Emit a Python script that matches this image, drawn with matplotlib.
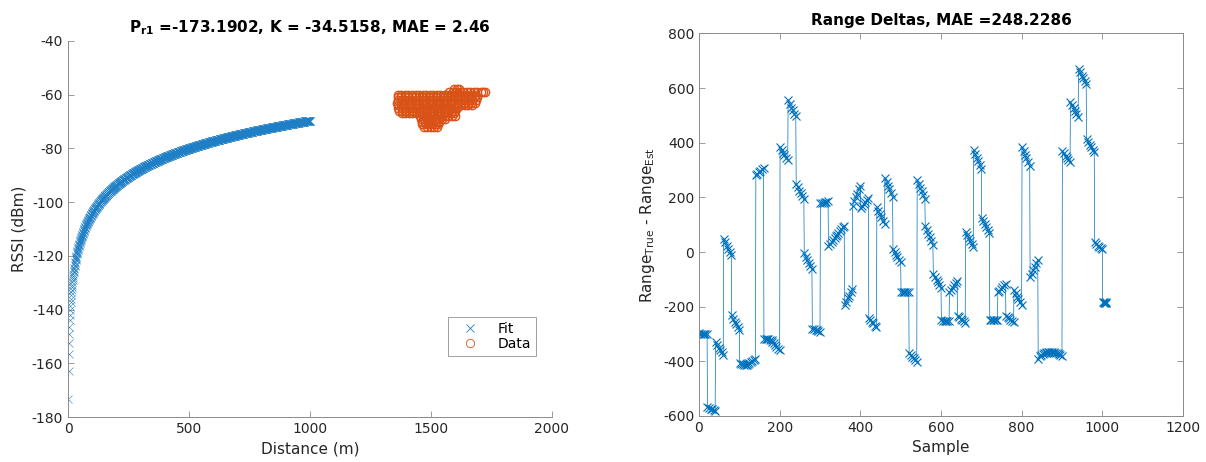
import numpy as np
import matplotlib.pyplot as plt

plt.rcParams['axes.unicode_minus'] = False

# path loss fit parameters
P_r1 = -173.1902
K = -34.5158
fit_dist = np.arange(1, 1001)

# measured points: RSSI level (dBm) and the distances (m) logged at it
rssi_levels = [-58, -59, -60, -61, -62, -63, -64, -65, -66, -67, -68, -69, -70, -71, -72]
dist_rows = [
    [1597, 1606, 1614],
    [1576, 1590, 1604, 1619, 1633, 1648, 1662, 1677, 1691, 1705, 1716, 1724],
    [1363, 1377, 1392, 1406, 1421, 1436, 1450, 1465, 1479, 1494, 1508, 1523, 1538,
     1552, 1567, 1581, 1596, 1611, 1625, 1640, 1654, 1669, 1683],
    [1362, 1376, 1391, 1405, 1420, 1434, 1449, 1463, 1478, 1492, 1507, 1522, 1536,
     1551, 1565, 1580, 1594, 1609, 1623, 1638, 1652, 1667, 1681, 1689],
    [1364, 1379, 1393, 1408, 1422, 1437, 1451, 1466, 1481, 1495, 1510, 1524, 1539,
     1553, 1568, 1582, 1597, 1612, 1626, 1641, 1655, 1670, 1686],
    [1361, 1375, 1390, 1404, 1419, 1434, 1448, 1463, 1477, 1492, 1506, 1521, 1535,
     1550, 1564, 1579, 1594, 1608, 1623, 1637, 1652, 1666, 1680],
    [1363, 1378, 1392, 1407, 1421, 1436, 1450, 1465, 1480, 1494, 1509, 1523, 1538,
     1552, 1567, 1581, 1596, 1611, 1625, 1640, 1654, 1668],
    [1365, 1380, 1394, 1409, 1423, 1438, 1452, 1467, 1482, 1496, 1511, 1525, 1540,
     1554, 1569, 1583, 1598, 1609],
    [1368, 1382, 1397, 1411, 1426, 1440, 1455, 1469, 1484, 1499, 1513, 1528, 1542,
     1557, 1571, 1586, 1600],
    [1379, 1393, 1408, 1422, 1437, 1452, 1466, 1481, 1495, 1510, 1524, 1539, 1553,
     1568, 1583, 1597],
    [1455, 1469, 1484, 1498, 1513, 1528, 1542, 1557, 1571, 1586, 1598],
    [1459, 1473, 1488, 1503, 1517, 1532, 1546, 1558],
    [1462, 1477, 1491, 1506, 1520, 1535],
    [1464, 1479, 1493, 1508, 1522, 1530],
    [1471, 1485, 1500, 1514, 1524],
]

# range error, read per 20-sample block
block_offsets = [0, 4, 8, 11, 15, 19]
last_offsets = [0, 2, 4, 5, 7, 9]
block_start = list(range(1, 1001, 20)) + [1001]
block_vals = [
    [-298, -299, -300, -301, -300, -300], [-568, -570, -573, -575, -578, -582],
    [-330, -340, -350, -358, -367, -376], [48, 35, 22, 13, 2, -10],
    [-232, -244, -256, -263, -274, -284], [-405, -408, -411, -412, -413, -413],
    [-410, -407, -403, -400, -395, -390], [282, 287, 293, 298, 303, 308],
    [-318, -318, -319, -320, -321, -323], [-328, -334, -341, -346, -353, -360],
    [385, 374, 363, 356, 346, 337], [555, 542, 529, 519, 507, 497],
    [250, 237, 224, 215, 204, 195], [-5, -17, -30, -40, -52, -63],
    [-280, -282, -285, -287, -290, -292], [178, 180, 181, 183, 184, 186],
    [22, 29, 37, 43, 50, 57], [62, 69, 77, 83, 90, 97],
    [-195, -182, -169, -159, -146, -135], [170, 186, 202, 214, 230, 243],
    [160, 168, 176, 182, 190, 197], [-240, -248, -256, -261, -269, -276],
    [165, 152, 138, 127, 113, 102], [272, 257, 242, 230, 215, 202],
    [10, 0, -10, -18, -28, -36], [-145, -146, -145, -146, -145, -146],
    [-368, -375, -383, -388, -395, -402], [262, 248, 234, 223, 209, 196],
    [95, 80, 65, 54, 39, 25], [-80, -91, -102, -110, -121, -131],
    [-250, -251, -252, -251, -252, -252], [-148, -139, -130, -122, -113, -105],
    [-234, -239, -244, -248, -253, -258], [75, 62, 50, 41, 28, 18],
    [375, 360, 344, 333, 318, 305], [125, 113, 101, 92, 80, 70],
    [-247, -248, -249, -248, -249, -250], [-148, -141, -134, -128, -122, -116],
    [-234, -239, -243, -248, -252, -256], [-140, -151, -163, -172, -184, -195],
    [385, 370, 354, 343, 328, 315], [-93, -79, -64, -54, -40, -28],
    [-390, -381, -375, -372, -370, -368], [-367, -366, -366, -366, -366, -367],
    [-368, -368, -370, -372, -376, -382], [370, 361, 352, 346, 337, 330],
    [550, 538, 526, 517, 505, 495], [670, 658, 646, 637, 625, 615],
    [415, 404, 393, 385, 374, 365], [35, 30, 24, 19, 14, 10],
    [-183, -184, -185, -185, -185, -184],
]

sample, delta = [], []
for i, (s, vals) in enumerate(zip(block_start, block_vals)):
    offs = last_offsets if i == len(block_start) - 1 else block_offsets
    sample += [s + o for o in offs]
    delta += vals

data_dist, data_rssi = [], []
for lvl, row in zip(rssi_levels, dist_rows):
    data_dist += row
    data_rssi += [lvl] * len(row)

blue = '#0072BD'
orange = '#D95319'
txt = '#262626'
spine = '#8a8a8a'

fig = plt.figure(figsize=(12.06, 4.62), dpi=100)
ax1 = fig.add_axes([0.0564, 0.0974, 0.4013, 0.8139])
ax2 = fig.add_axes([0.5796, 0.0996, 0.4013, 0.8279])

fit_rssi = P_r1 - K * np.log10(fit_dist)
ax1.plot(fit_dist, fit_rssi, 'x', color='#1f7fc6', ms=5.5, mew=0.4, label='Fit')
ax1.plot(data_dist, data_rssi, 'o', color=orange, mfc='none', ms=6, mew=1.0, label='Data')
ax1.set_xlim(0, 2000)
ax1.set_ylim(-180, -40)
ax1.set_xticks(range(0, 2001, 500))
ax1.set_yticks(range(-180, -39, 20))
ax1.set_xlabel('Distance (m)', fontsize=11, color=txt)
ax1.set_ylabel('RSSI (dBm)', fontsize=11, color=txt)
ax1.set_title(r'$\mathbf{P_{r1}}$ =-173.1902, K = -34.5158, MAE = 2.46',
              fontsize=11, fontweight='bold', pad=6)
for side in ['top', 'right']:
    ax1.spines[side].set_visible(False)
leg = ax1.legend(loc='lower right', bbox_to_anchor=(0.967, 0.162), borderaxespad=0,
                 fontsize=10, fancybox=False, edgecolor='#a0a0a0', framealpha=1,
                 handletextpad=0.8, borderpad=0.35, labelspacing=0.1, handlelength=2.4)
leg.get_frame().set_linewidth(0.7)
for h in leg.legend_handles:
    h.set_markeredgewidth(0.6)

ax2.plot(sample, delta, '-x', color=blue, lw=0.5, ms=6, mew=0.8)
ax2.set_xlim(0, 1200)
ax2.set_ylim(-600, 800)
ax2.set_xticks(range(0, 1201, 200))
ax2.set_yticks(range(-600, 801, 200))
ax2.set_xlabel('Sample', fontsize=11, color=txt)
ax2.set_ylabel(r'Range$_{\mathrm{True}}$ - Range$_{\mathrm{Est}}$', fontsize=11, color=txt)
ax2.set_title('Range Deltas, MAE =248.2286', fontsize=11, fontweight='bold', pad=6)
ax2.tick_params(top=True, right=True)

for ax in (ax1, ax2):
    ax.tick_params(direction='in', length=4, width=0.6, colors=spine,
                   labelcolor=txt, labelsize=10)
    for s in ax.spines.values():
        s.set_color(spine)
        s.set_linewidth(0.7)

fig.savefig('out.png', dpi=100)
